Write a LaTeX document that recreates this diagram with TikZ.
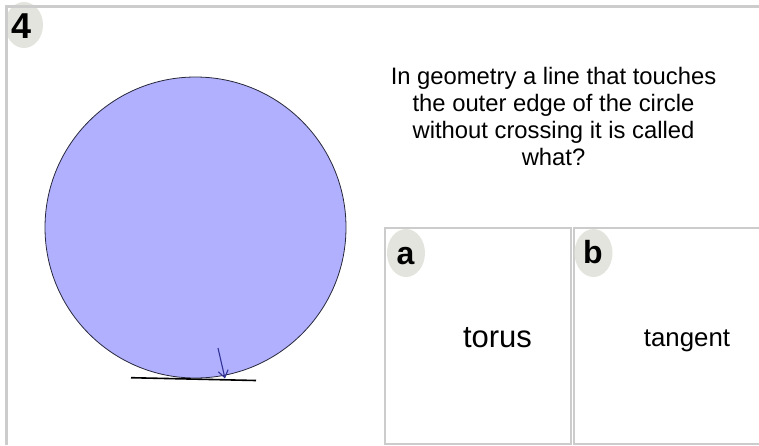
\documentclass[tikz,border=0pt]{standalone}
\usepackage{fontspec}
\setmainfont{Liberation Sans}
\usetikzlibrary{arrows.meta}
\definecolor{frame}{RGB}{204,204,204}
\definecolor{badge}{RGB}{228,228,222}
\definecolor{disc}{RGB}{176,176,255}
\definecolor{discline}{RGB}{40,40,60}
\definecolor{arrowc}{RGB}{50,50,150}
\tikzset{
  framebox/.style={draw=frame, line width=2pt},
  badgeshape/.style={fill=badge, draw=none},
  badgetext/.style={anchor=base, inner sep=0pt, font=\bfseries\fontsize{#1}{#1}\selectfont},
  answer/.style={anchor=base, inner sep=0pt, font=\fontsize{#1}{#1}\selectfont},
}
\begin{document}
\begin{tikzpicture}[x=1pt,y=-1pt]
\useasboundingbox (0,0) rectangle (759,445);
% badge 4
\fill[badgeshape] (24,25) ellipse [x radius=19, y radius=23];
\node[badgetext=36] (n4) at (22,38) {4};
% outer frame
\draw[frame, line width=3pt] (6,445) -- (6,6.5) -- (760,6.5);
% circle
\draw[fill=disc, draw=discline, line width=0.8pt] (195.5,227.5) circle [radius=150.5];
% tangent line
\coordinate (tl) at (131,377.7);
\coordinate (tr) at (256,380.5);
\draw[line width=1.6pt, black] (tl) -- (tr);
\coordinate (as) at (218,348);
\coordinate (ae) at (225,378.5);
\draw[arrowc, line width=1.1pt, -{Straight Barb[length=7pt,width=10pt]}] (as) -- (ae);
% question
\node[align=center, inner sep=0pt, font=\fontsize{23.8}{27.3}\selectfont] (q) at (553.5,116.5)
  {In geometry a line that touches\\the outer edge of the circle\\without crossing it is called\\what?};
% answer boxes
\draw[framebox] (385,444) -- (385,228) -- (571,228) -- (571,444) -- cycle;
\draw[framebox] (760,228) -- (573.5,228) -- (573.5,444) -- (760,444);
\fill[badgeshape] (406,253) ellipse [x radius=19, y radius=24];
\fill[badgeshape] (593.5,253) ellipse [x radius=19, y radius=24];
\node[badgetext=32] (la) at (405.5,264) {a};
\node[badgetext=32] (lb) at (593,263.5) {b};
\node[answer=31] (ta) at (497.5,347) {torus};
\node[answer=25.8] (tb) at (687,346) {tangent};
\end{tikzpicture}
\end{document}
